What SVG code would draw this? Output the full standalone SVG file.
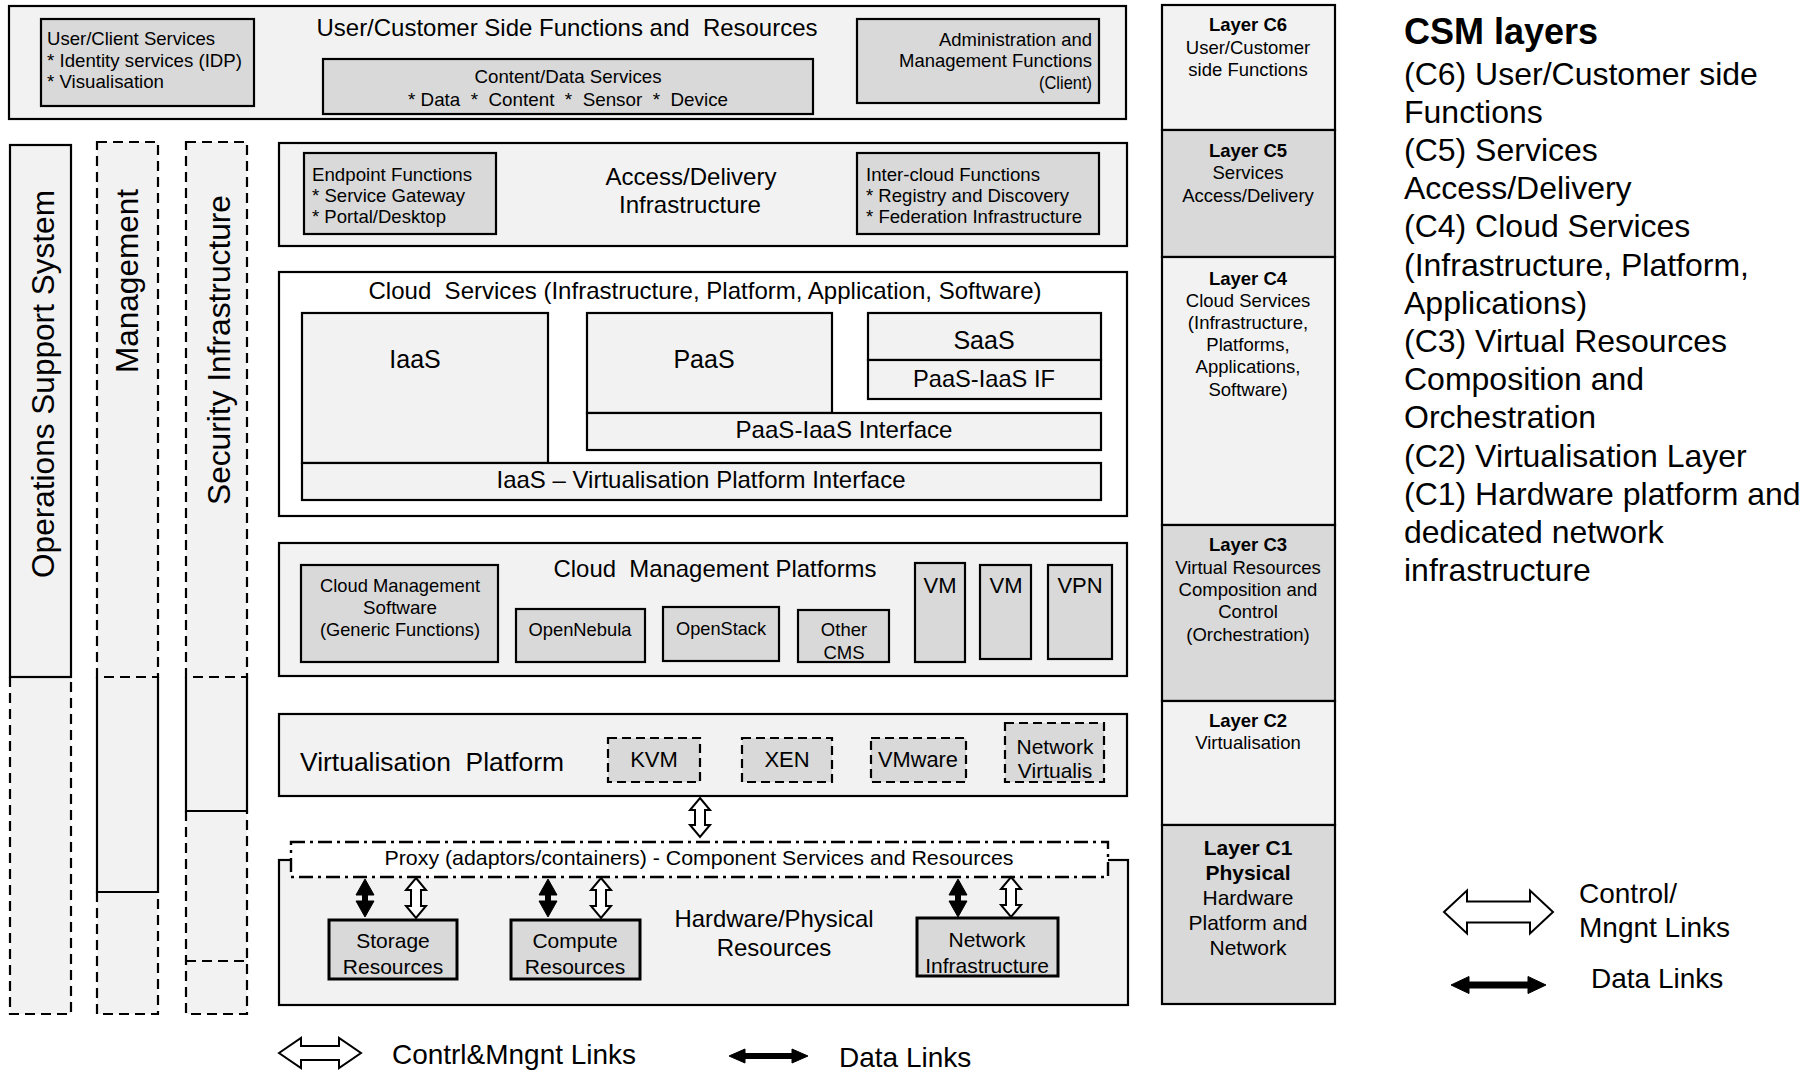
<svg xmlns="http://www.w3.org/2000/svg" width="1817" height="1071" viewBox="0 0 1817 1071">
<style>
  text { font-family: "Liberation Sans", Arial, sans-serif; fill: #000; white-space: pre; }
  .bx { fill: #f2f2f2; stroke: #000; stroke-width: 2.2; }
  .wb { fill: #ffffff; stroke: #000; stroke-width: 2.2; }
  .sb { fill: #d9d9d9; stroke: #000; stroke-width: 2.2; }
  .rb { fill: #d9d9d9; stroke: #000; stroke-width: 3; }
  .nf { fill: none; stroke: #000; stroke-width: 2.2; }
  .nfd { fill: none; stroke: #000; stroke-width: 2.2; stroke-dasharray: 10 6; }
  .ff { fill: #f2f2f2; stroke: none; }
  .db { fill: #d9d9d9; stroke: #000; stroke-width: 2.2; stroke-dasharray: 9 5; }
  .px { fill: #ffffff; stroke: #000; stroke-width: 2.4; stroke-dasharray: 14 5 3 5; }
  .ctl { fill: #ffffff; stroke: #000; stroke-width: 2; stroke-linejoin: miter; }
  .dat { fill: #000; stroke: #000; stroke-width: 1; }
  .s18 { font-size: 18.5px; }
  .s21 { font-size: 21px; }
  .s22 { font-size: 22px; }
  .s24 { font-size: 24px; }
  .s25 { font-size: 25px; }
  .s26 { font-size: 26px; }
  .s28 { font-size: 28px; }
  .s31 { font-size: 31px; }
  .s32 { font-size: 32px; }
  .b { font-weight: bold; }
  .m { text-anchor: middle; }
  .e { text-anchor: end; }
</style>

<!-- C6: user/customer side -->
<g id="user-customer-side">
  <rect class="bx" x="9" y="6" width="1117" height="113"/>
  <text class="s24 m" x="567" y="36" textLength="501" lengthAdjust="spacingAndGlyphs">User/Customer Side Functions and  Resources</text>
  <g id="user-client-services">
    <rect class="sb" x="41" y="19" width="213" height="87"/>
    <text class="s18" x="47" y="45" textLength="168" lengthAdjust="spacingAndGlyphs">User/Client Services</text>
    <text class="s18" x="47" y="67" textLength="195" lengthAdjust="spacingAndGlyphs">* Identity services (IDP)</text>
    <text class="s18" x="47" y="88" textLength="117" lengthAdjust="spacingAndGlyphs">* Visualisation</text>
  </g>
  <g id="content-data-services">
    <rect class="sb" x="323" y="59" width="490" height="55"/>
    <text class="s18 m" x="568" y="83" textLength="187" lengthAdjust="spacingAndGlyphs">Content/Data Services</text>
    <text class="s18 m" x="568" y="106" textLength="320" lengthAdjust="spacingAndGlyphs">* Data  *  Content  *  Sensor  *  Device</text>
  </g>
  <g id="admin-management-client">
    <rect class="sb" x="857" y="19" width="242" height="84"/>
    <text class="s18 e" x="1092" y="46" textLength="153" lengthAdjust="spacingAndGlyphs">Administration and</text>
    <text class="s18 e" x="1092" y="67" textLength="193" lengthAdjust="spacingAndGlyphs">Management Functions</text>
    <text class="s18 e" x="1092" y="89" textLength="53" lengthAdjust="spacingAndGlyphs">(Client)</text>
  </g>
</g>

<!-- vertical cross-layer columns -->
<g id="operations-support-system">
  <rect class="ff" x="10" y="145" width="61" height="869"/>
  <rect class="nf" x="10" y="145" width="61" height="532"/>
  <path class="nfd" d="M10,677 V1014 H71 V677"/>
  <text class="s31 m" transform="translate(54,384) rotate(-90)" textLength="388" lengthAdjust="spacingAndGlyphs">Operations Support System</text>
</g>
<g id="management">
  <rect class="ff" x="97" y="142" width="61" height="872"/>
  <rect class="nfd" x="97" y="142" width="61" height="535"/>
  <path class="nf" d="M97,677 V892 H158 V677"/>
  <path class="nfd" d="M97,892 V1014 H158 V892"/>
  <text class="s31 m" transform="translate(138,281) rotate(-90)" textLength="184" lengthAdjust="spacingAndGlyphs">Management</text>
</g>
<g id="security-infrastructure">
  <rect class="ff" x="186" y="142" width="61" height="872"/>
  <rect class="nfd" x="186" y="142" width="61" height="535"/>
  <path class="nf" d="M186,677 V811 H247 V677"/>
  <path class="nfd" d="M186,811 V1014 H247 V811 M186,961 H247"/>
  <text class="s31 m" transform="translate(230,350) rotate(-90)" textLength="310" lengthAdjust="spacingAndGlyphs">Security Infrastructure</text>
</g>

<!-- C5: access/delivery -->
<g id="access-delivery">
  <rect class="bx" x="279" y="143" width="848" height="103"/>
  <text class="s24 m" x="691" y="185" textLength="171" lengthAdjust="spacingAndGlyphs">Access/Delivery</text>
  <text class="s24 m" x="690" y="213" textLength="142" lengthAdjust="spacingAndGlyphs">Infrastructure</text>
  <g id="endpoint-functions">
    <rect class="sb" x="304" y="153" width="192" height="81"/>
    <text class="s18" x="312" y="181" textLength="160" lengthAdjust="spacingAndGlyphs">Endpoint Functions</text>
    <text class="s18" x="312" y="202" textLength="153" lengthAdjust="spacingAndGlyphs">* Service Gateway</text>
    <text class="s18" x="312" y="223" textLength="134" lengthAdjust="spacingAndGlyphs">* Portal/Desktop</text>
  </g>
  <g id="inter-cloud-functions">
    <rect class="sb" x="857" y="153" width="242" height="81"/>
    <text class="s18" x="866" y="181" textLength="174" lengthAdjust="spacingAndGlyphs">Inter-cloud Functions</text>
    <text class="s18" x="866" y="202" textLength="203" lengthAdjust="spacingAndGlyphs">* Registry and Discovery</text>
    <text class="s18" x="866" y="223" textLength="216" lengthAdjust="spacingAndGlyphs">* Federation Infrastructure</text>
  </g>
</g>

<!-- C4: cloud services -->
<g id="cloud-services">
  <rect class="wb" x="279" y="272" width="848" height="244"/>
  <text class="s24 m" x="705" y="299" textLength="673" lengthAdjust="spacingAndGlyphs">Cloud  Services (Infrastructure, Platform, Application, Software)</text>
  <g id="iaas">
    <rect class="bx" x="302" y="313" width="246" height="150"/>
    <text class="s25 m" x="415" y="368">IaaS</text>
  </g>
  <g id="paas">
    <rect class="bx" x="587" y="313" width="245" height="100"/>
    <text class="s25 m" x="704" y="368">PaaS</text>
  </g>
  <g id="saas">
    <rect class="bx" x="868" y="313" width="233" height="47"/>
    <text class="s25 m" x="984" y="349">SaaS</text>
  </g>
  <g id="paas-iaas-if">
    <rect class="bx" x="868" y="360" width="233" height="39"/>
    <text class="s24 m" x="984" y="387" textLength="142" lengthAdjust="spacingAndGlyphs">PaaS-IaaS IF</text>
  </g>
  <g id="paas-iaas-interface">
    <rect class="bx" x="587" y="413" width="514" height="37"/>
    <text class="s24 m" x="844" y="438" textLength="217" lengthAdjust="spacingAndGlyphs">PaaS-IaaS Interface</text>
  </g>
  <g id="iaas-virtualisation-interface">
    <rect class="bx" x="302" y="463" width="799" height="37"/>
    <text class="s24 m" x="701" y="488" textLength="409" lengthAdjust="spacingAndGlyphs">IaaS – Virtualisation Platform Interface</text>
  </g>
</g>

<!-- C3: cloud management platforms -->
<g id="cloud-management-platforms">
  <rect class="bx" x="279" y="543" width="848" height="133"/>
  <text class="s24 m" x="715" y="577" textLength="323" lengthAdjust="spacingAndGlyphs">Cloud  Management Platforms</text>
  <g id="cms-generic">
    <rect class="sb" x="301" y="565" width="197" height="97"/>
    <text class="s18 m" x="400" y="592" textLength="160" lengthAdjust="spacingAndGlyphs">Cloud Management</text>
    <text class="s18 m" x="400" y="614" textLength="74" lengthAdjust="spacingAndGlyphs">Software</text>
    <text class="s18 m" x="400" y="636" textLength="160" lengthAdjust="spacingAndGlyphs">(Generic Functions)</text>
  </g>
  <g id="opennebula">
    <rect class="sb" x="516" y="609" width="129" height="53"/>
    <text class="s18 m" x="580" y="636" textLength="103" lengthAdjust="spacingAndGlyphs">OpenNebula</text>
  </g>
  <g id="openstack">
    <rect class="sb" x="663" y="607" width="116" height="54"/>
    <text class="s18 m" x="721" y="635" textLength="90" lengthAdjust="spacingAndGlyphs">OpenStack</text>
  </g>
  <g id="other-cms">
    <rect class="sb" x="798" y="610" width="91" height="52"/>
    <text class="s18 m" x="844" y="636">Other</text>
    <text class="s18 m" x="844" y="659">CMS</text>
  </g>
  <g id="vm-1">
    <rect class="sb" x="915" y="563" width="50" height="99"/>
    <text class="s22 m" x="940" y="593">VM</text>
  </g>
  <g id="vm-2">
    <rect class="sb" x="980" y="565" width="51" height="94"/>
    <text class="s22 m" x="1006" y="593">VM</text>
  </g>
  <g id="vpn">
    <rect class="sb" x="1048" y="565" width="64" height="94"/>
    <text class="s22 m" x="1080" y="593">VPN</text>
  </g>
</g>

<!-- C2: virtualisation platform -->
<g id="virtualisation-platform">
  <rect class="bx" x="279" y="714" width="848" height="82"/>
  <text class="s26" x="300" y="771" textLength="264" lengthAdjust="spacingAndGlyphs">Virtualisation  Platform</text>
  <g id="kvm">
    <rect class="db" x="608" y="738" width="92" height="44"/>
    <text class="s22 m" x="654" y="767">KVM</text>
  </g>
  <g id="xen">
    <rect class="db" x="742" y="738" width="90" height="44"/>
    <text class="s22 m" x="787" y="767">XEN</text>
  </g>
  <g id="vmware">
    <rect class="db" x="871" y="738" width="95" height="44"/>
    <text class="s22 m" x="918" y="767" textLength="80" lengthAdjust="spacingAndGlyphs">VMware</text>
  </g>
  <g id="network-virtualisation">
    <rect class="db" x="1005" y="723" width="99" height="59"/>
    <text class="s21 m" x="1055" y="754">Network</text>
    <text class="s21 m" x="1055" y="778">Virtualis</text>
  </g>
</g>

<!-- C1: hardware / physical resources -->
<g id="hardware-physical">
  <rect class="bx" x="279" y="860" width="849" height="145"/>
  <text class="s24 m" x="774" y="927" textLength="199" lengthAdjust="spacingAndGlyphs">Hardware/Physical</text>
  <text class="s24 m" x="774" y="956">Resources</text>
  <g id="proxy">
    <rect class="px" x="291" y="842" width="817" height="35"/>
    <text class="s21 m" x="699" y="865" textLength="629" lengthAdjust="spacingAndGlyphs">Proxy (adaptors/containers) - Component Services and Resources</text>
  </g>
  <g id="storage-resources">
    <rect class="rb" x="329" y="920" width="128" height="59"/>
    <text class="s21 m" x="393" y="948">Storage</text>
    <text class="s21 m" x="393" y="974">Resources</text>
  </g>
  <g id="compute-resources">
    <rect class="rb" x="511" y="920" width="129" height="59"/>
    <text class="s21 m" x="575" y="948">Compute</text>
    <text class="s21 m" x="575" y="974">Resources</text>
  </g>
  <g id="network-infrastructure">
    <rect class="rb" x="917" y="918" width="141" height="58"/>
    <text class="s21 m" x="987" y="947">Network</text>
    <text class="s21 m" x="987" y="973">Infrastructure</text>
  </g>
</g>

<!-- links between layers and resources -->
<g id="connectors">
  <!-- control/management (hollow) -->
  <polygon class="ctl" points="700,798 710,810 705,810 705,825 710,825 700,837 690,825 695,825 695,810 690,810"/>
  <polygon class="ctl" points="416,878 426,890 421,890 421,906 426,906 416,918 406,906 411,906 411,890 406,890"/>
  <polygon class="ctl" points="601,878 611,890 606,890 606,906 611,906 601,918 591,906 596,906 596,890 591,890"/>
  <polygon class="ctl" points="1011,877 1021,889 1016,889 1016,905 1021,905 1011,917 1001,905 1006,905 1006,889 1001,889"/>
  <!-- data (solid) -->
  <polygon class="dat" points="365,879 374,895 367.5,895 367.5,901 374,901 365,917 356,901 362.5,901 362.5,895 356,895"/>
  <polygon class="dat" points="548,879 557,895 550.5,895 550.5,901 557,901 548,917 539,901 545.5,901 545.5,895 539,895"/>
  <polygon class="dat" points="958,879 967,895 960.5,895 960.5,901 967,901 958,917 949,901 955.5,901 955.5,895 949,895"/>
</g>

<!-- layer column C6..C1 -->
<g id="layer-c6">
  <rect class="bx" x="1162" y="5" width="173" height="125"/>
  <text class="s18 m b" x="1248" y="31">Layer C6</text>
  <text class="s18 m" x="1248" y="54">User/Customer</text>
  <text class="s18 m" x="1248" y="76">side Functions</text>
</g>
<g id="layer-c5">
  <rect class="sb" x="1162" y="130" width="173" height="127"/>
  <text class="s18 m b" x="1248" y="157">Layer C5</text>
  <text class="s18 m" x="1248" y="179">Services</text>
  <text class="s18 m" x="1248" y="202">Access/Delivery</text>
</g>
<g id="layer-c4">
  <rect class="bx" x="1162" y="257" width="173" height="268"/>
  <text class="s18 m b" x="1248" y="285">Layer C4</text>
  <text class="s18 m" x="1248" y="307">Cloud Services</text>
  <text class="s18 m" x="1248" y="329">(Infrastructure,</text>
  <text class="s18 m" x="1248" y="351">Platforms,</text>
  <text class="s18 m" x="1248" y="373">Applications,</text>
  <text class="s18 m" x="1248" y="396">Software)</text>
</g>
<g id="layer-c3">
  <rect class="sb" x="1162" y="525" width="173" height="176"/>
  <text class="s18 m b" x="1248" y="551">Layer C3</text>
  <text class="s18 m" x="1248" y="574">Virtual Resources</text>
  <text class="s18 m" x="1248" y="596">Composition and</text>
  <text class="s18 m" x="1248" y="618">Control</text>
  <text class="s18 m" x="1248" y="641">(Orchestration)</text>
</g>
<g id="layer-c2">
  <rect class="bx" x="1162" y="701" width="173" height="124"/>
  <text class="s18 m b" x="1248" y="727">Layer C2</text>
  <text class="s18 m" x="1248" y="749">Virtualisation</text>
</g>
<g id="layer-c1">
  <rect class="sb" x="1162" y="825" width="173" height="179"/>
  <text class="s21 m b" x="1248" y="855">Layer C1</text>
  <text class="s21 m b" x="1248" y="880">Physical</text>
  <text class="s21 m" x="1248" y="905">Hardware</text>
  <text class="s21 m" x="1248" y="930">Platform and</text>
  <text class="s21 m" x="1248" y="955">Network</text>
</g>

<!-- layer list -->
<g id="csm-layers">
  <text class="b" x="1404" y="44" style="font-size:36px">CSM layers</text>
  <text class="s32" x="1404" y="84.5">(C6) User/Customer side</text>
  <text class="s32" x="1404" y="122.7">Functions</text>
  <text class="s32" x="1404" y="160.9">(C5) Services</text>
  <text class="s32" x="1404" y="199.1">Access/Delivery</text>
  <text class="s32" x="1404" y="237.3">(C4) Cloud Services</text>
  <text class="s32" x="1404" y="275.5">(Infrastructure, Platform,</text>
  <text class="s32" x="1404" y="313.7">Applications)</text>
  <text class="s32" x="1404" y="351.9">(C3) Virtual Resources</text>
  <text class="s32" x="1404" y="390.1">Composition and</text>
  <text class="s32" x="1404" y="428.3">Orchestration</text>
  <text class="s32" x="1404" y="466.5">(C2) Virtualisation Layer</text>
  <text class="s32" x="1404" y="504.7">(C1) Hardware platform and</text>
  <text class="s32" x="1404" y="542.9">dedicated network</text>
  <text class="s32" x="1404" y="581.1">infrastructure</text>
</g>

<!-- legends -->
<g id="legend-right">
  <polygon class="ctl" points="1444,912 1467,890.5 1467,901.5 1530,901.5 1530,890.5 1553,912 1530,933.5 1530,922.5 1467,922.5 1467,933.5"/>
  <polygon class="dat" points="1451,985 1469,976.5 1469,982 1528,982 1528,976.5 1546,985 1528,993.5 1528,988 1469,988 1469,993.5"/>
  <text class="s28" x="1579" y="903">Control/</text>
  <text class="s28" x="1579" y="937">Mngnt Links</text>
  <text class="s28" x="1591" y="988">Data Links</text>
</g>
<g id="legend-bottom">
  <polygon class="ctl" points="279,1053 301,1038 301,1046 339,1046 339,1038 361,1053 339,1068 339,1060 301,1060 301,1068"/>
  <polygon class="dat" points="729,1056 745,1049 745,1053.5 792,1053.5 792,1049 808,1056 792,1063 792,1058.5 745,1058.5 745,1063"/>
  <text class="s28" x="392" y="1064" textLength="244" lengthAdjust="spacingAndGlyphs">Contrl&amp;Mngnt Links</text>
  <text class="s28" x="839" y="1067">Data Links</text>
</g>
</svg>
